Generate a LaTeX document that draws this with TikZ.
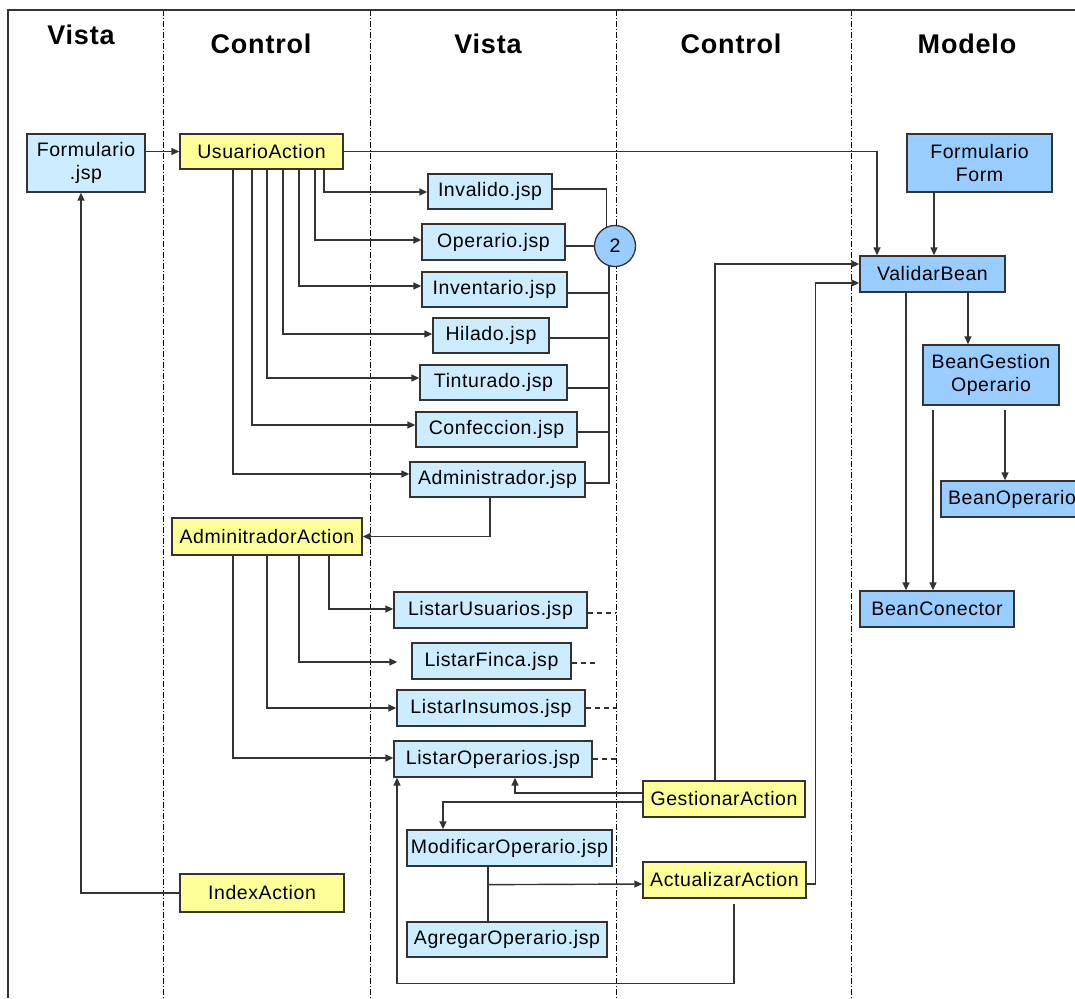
\documentclass[tikz,border=0pt]{standalone}
\usepackage{fontspec}
\setmainfont{Liberation Sans}[LetterSpace=3]
\usetikzlibrary{arrows.meta}
\definecolor{jspblue}{HTML}{CCECFF}
\definecolor{beanblue}{HTML}{99CCFF}
\definecolor{actyellow}{HTML}{FFFF99}
\definecolor{edge}{HTML}{333333}
\tikzset{
	box/.style={draw=edge, line width=1.3pt, inner sep=0pt, align=center,
		font=\fontsize{19.5}{23}\selectfont},
	jspbox/.style={box, fill=jspblue},
	actionbox/.style={box, fill=actyellow},
	beanbox/.style={box, fill=beanblue},
	header/.style={anchor=base, font=\fontsize{27}{30}\selectfont\bfseries},
	arr/.style={draw=edge, line width=1.4pt, -{Triangle[length=8pt,width=7pt]}},
	wire/.style={draw=edge, line width=1.4pt},
	stub/.style={draw=edge, line width=1.4pt, dash pattern=on 5pt off 4pt},
	lane/.style={draw=black, line width=1pt, dash pattern=on 6pt off 2pt on 1pt off 2pt}
}

\begin{document}
\begin{tikzpicture}[x=1pt, y=-1pt]
			%%%%% START %%%%%
			\useasboundingbox (0,0) rectangle (1075,998);
			
			\coordinate (lane1) at (163,10);
			\coordinate (lane2) at (370,10);
			\coordinate (lane3) at (616,10);
			\coordinate (lane4) at (851,10);
			\draw[lane] (lane1) -- (lane1 |- 0,998);
			\draw[lane] (lane2) -- (lane2 |- 0,998);
			\draw[lane] (lane3) -- (lane3 |- 0,998);
			\draw[lane] (lane4) -- (lane4 |- 0,998);
			\draw[line width=1.5pt, draw=edge] (8,998) -- (8,10) -- (1075,10);
			
			\node[header] (hvista1) at (81,45) {Vista};
			\node[header] (hcontrol1) at (261,54) {Control};
			\node[header] (hvista2) at (488,54) {Vista};
			\node[header] (hcontrol2) at (731,54) {Control};
			\node[header] (hmodelo) at (967,54) {Modelo};
			
			\node[jspbox, minimum width=118, minimum height=58] (formjsp) at (86,163) {Formulario\\.jsp};
			\node[actionbox, minimum width=163, minimum height=35] (usuario) at (261.5,151.5) {UsuarioAction};
			
			\node[jspbox, minimum width=124, minimum height=35] (invalido) at (490,191.5) {Invalido.jsp};
			\node[jspbox, minimum width=143, minimum height=36] (operario) at (493.5,242) {Operario.jsp};
			\node[jspbox, minimum width=145, minimum height=35] (inventario) at (494.5,289.5) {Inventario.jsp};
			\node[jspbox, minimum width=116, minimum height=35] (hilado) at (491,335.5) {Hilado.jsp};
			\node[jspbox, minimum width=147, minimum height=35] (tinturado) at (493.5,382.5) {Tinturado.jsp};
			\node[jspbox, minimum width=161, minimum height=35] (confeccion) at (496.5,429.5) {Confeccion.jsp};
			\node[jspbox, minimum width=175, minimum height=35] (administrador) at (497.5,479.5) {Administrador.jsp};
			\node[beanbox, circle, minimum size=41] (circ) at (615,246) {2};
			
			\node[actionbox, minimum width=190, minimum height=37] (adminaction) at (267,536.5) {AdminitradorAction};
			\node[jspbox, minimum width=193, minimum height=36] (listusu) at (490.5,610) {ListarUsuarios.jsp};
			\node[jspbox, minimum width=159, minimum height=36] (listfinca) at (491.5,661) {ListarFinca.jsp};
			\node[jspbox, minimum width=188, minimum height=36] (listins) at (491,708) {ListarInsumos.jsp};
			\node[jspbox, minimum width=198, minimum height=36] (listop) at (493,759) {ListarOperarios.jsp};
			
			\node[actionbox, minimum width=162, minimum height=36] (gestionar) at (724,799) {GestionarAction};
			\node[jspbox, minimum width=205, minimum height=36] (modificar) at (509.5,848) {ModificarOperario.jsp};
			\node[actionbox, minimum width=163, minimum height=36] (actualizar) at (724.5,880) {ActualizarAction};
			\node[jspbox, minimum width=200, minimum height=35] (agregar) at (507,939.5) {AgregarOperario.jsp};
			\node[actionbox, minimum width=164, minimum height=38] (index) at (262,893) {IndexAction};
			
			\node[beanbox, minimum width=145, minimum height=58] (formform) at (979.5,163) {Formulario\\Form};
			\node[beanbox, minimum width=145, minimum height=36] (validar) at (932.5,274) {ValidarBean};
			\node[beanbox, minimum width=136, minimum height=60] (gestionop) at (991,375) {BeanGestion\\Operario};
			\node[beanbox, minimum width=142, minimum height=36] (beanop) at (1012,499) {BeanOperario};
			\node[beanbox, minimum width=154, minimum height=36] (beancon) at (937,609) {BeanConector};
			
			\draw[arr] (formjsp.east |- usuario.west) -- (usuario.west);
			\draw[arr] (usuario.east) -| (validar.north -| 877,0);
			\draw[arr] (formform.south -| 934,0) -- (validar.north -| 934,0);
			
			\draw[arr] (usuario.south -| 324,0) |- (invalido.west |- 0,192);
			\draw[arr] (usuario.south -| 315,0) |- (operario.west |- 0,240);
			\draw[arr] (usuario.south -| 299,0) |- (inventario.west |- 0,286);
			\draw[arr] (usuario.south -| 283,0) |- (hilado.west |- 0,334);
			\draw[arr] (usuario.south -| 267,0) |- (tinturado.west |- 0,378);
			\draw[arr] (usuario.south -| 252,0) |- (confeccion.west |- 0,425);
			\draw[arr] (usuario.south -| 233,0) |- (administrador.west |- 0,474);
			
			\draw[wire] (invalido.east |- 0,189) -| (circ.113);
			\draw[wire] (operario.east |- circ.west) -- (circ.west);
			\draw[wire] (administrador.east |- 0,483) -| (circ.253);
			\draw[wire] (inventario.east |- 0,293) -- (circ.253 |- 0,293);
			\draw[wire] (hilado.east |- 0,338) -- (circ.253 |- 0,338);
			\draw[wire] (tinturado.east |- 0,388) -- (circ.253 |- 0,388);
			\draw[wire] (confeccion.east |- 0,432) -- (circ.253 |- 0,432);
			
			\draw[arr] (administrador.south -| 490,0) |- (adminaction.east);
			\draw[arr] (adminaction.south -| 329,0) |- (listusu.west |- 0,609);
			\draw[arr, shorten >=14pt] (adminaction.south -| 299,0) |- (listfinca.west |- 0,662);
			\draw[arr] (adminaction.south -| 267,0) |- (listins.west);
			\draw[arr] (adminaction.south -| 233,0) |- (listop.west |- 0,758);
			
			\draw[stub] (listusu.east |- 0,613) -- (lane3 |- 0,613);
			\draw[stub, shorten >=21pt] (listfinca.east |- 0,663) -- (lane3 |- 0,663);
			\draw[stub] (listins.east) -- (lane3 |- listins.east);
			\draw[stub] (listop.east) -- (lane3 |- listop.east);
			
			\draw[arr] (gestionar.west |- 0,793) -| (listop.south -| 515,0);
			\draw[arr] (gestionar.west |- 0,802) -| (modificar.north -| 443,0);
			\draw[arr] (gestionar.north -| 715,0) |- (validar.west |- 0,264);
			\draw[arr] (actualizar.east |- 0,884) -- ++(9,0) |- (validar.west |- 0,283);
			
			\draw[wire] (modificar.south -| 488,0) -- (agregar.north -| 488,0);
			\draw[arr] (modificar.south -| 488,0) ++(0,18) -- (actualizar.west |- 0,884);
			\draw[arr] ([yshift=-5pt]actualizar.south -| 734,0) -- ++(0,80) -| (listop.south -| 397,0);
			
			\draw[arr] (index.west) -| (formjsp.south -| 81,0);
			
			\draw[arr] (validar.south -| 906,0) -- (beancon.north -| 906,0);
			\draw[arr] (validar.south -| 968,0) -- (gestionop.north -| 968,0);
			\draw[arr] ([yshift=-4pt]gestionop.south -| 933,0) -- (beancon.north -| 933,0);
			\draw[arr] ([yshift=-4pt]gestionop.south -| 1005,0) -- (beanop.north -| 1005,0);
			
			%%%%% END %%%%%
\end{tikzpicture}
\end{document}
